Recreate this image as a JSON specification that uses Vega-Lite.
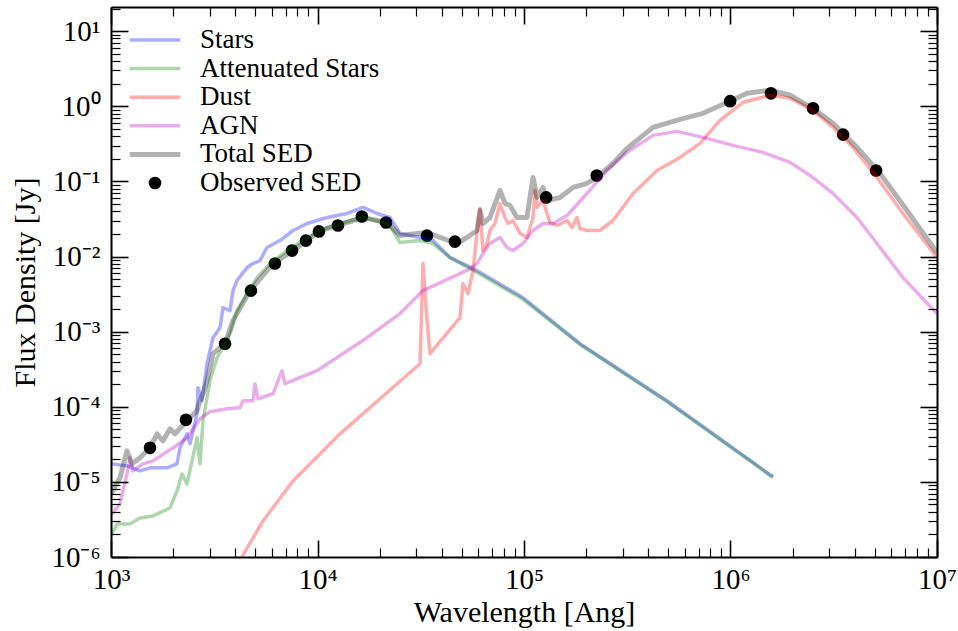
{
  "$schema": "https://vega.github.io/schema/vega-lite/v6.json",
  "width": 826,
  "height": 550,
  "autosize": {"type": "none"},
  "padding": {"left": 111, "top": 7, "right": 21, "bottom": 74},
  "background": "white",
  "config": {
    "font": "Liberation Serif",
    "view": {"stroke": null},
    "axis": {"grid": false, "labelColor": "black", "titleColor": "black", "tickColor": "black", "domainColor": "black", "titleFontWeight": "normal"}
  },
  "datasets": {
    "observed": [
      {"series": "Observed SED", "wavelength": 1545, "flux": 2.84e-5},
      {"series": "Observed SED", "wavelength": 2306, "flux": 6.7e-5},
      {"series": "Observed SED", "wavelength": 3565, "flux": 6.9e-4},
      {"series": "Observed SED", "wavelength": 4764, "flux": 3.52e-3},
      {"series": "Observed SED", "wavelength": 6220, "flux": 8.07e-3},
      {"series": "Observed SED", "wavelength": 7530, "flux": 0.012},
      {"series": "Observed SED", "wavelength": 8790, "flux": 0.0163},
      {"series": "Observed SED", "wavelength": 10160, "flux": 0.0216},
      {"series": "Observed SED", "wavelength": 12560, "flux": 0.0259},
      {"series": "Observed SED", "wavelength": 16400, "flux": 0.0341},
      {"series": "Observed SED", "wavelength": 21470, "flux": 0.0284},
      {"series": "Observed SED", "wavelength": 33900, "flux": 0.019},
      {"series": "Observed SED", "wavelength": 46300, "flux": 0.0158},
      {"series": "Observed SED", "wavelength": 128000, "flux": 0.0612},
      {"series": "Observed SED", "wavelength": 225000, "flux": 0.12},
      {"series": "Observed SED", "wavelength": 996000, "flux": 1.17},
      {"series": "Observed SED", "wavelength": 1570000, "flux": 1.49},
      {"series": "Observed SED", "wavelength": 2510000, "flux": 0.94},
      {"series": "Observed SED", "wavelength": 3510000, "flux": 0.42},
      {"series": "Observed SED", "wavelength": 5070000, "flux": 0.14}
    ],
    "models": [
      {"series": "Stars", "wavelength": 1000, "flux": 1.738e-5},
      {"series": "Stars", "wavelength": 1195, "flux": 1.634e-5},
      {"series": "Stars", "wavelength": 1382, "flux": 1.402e-5},
      {"series": "Stars", "wavelength": 1545, "flux": 1.537e-5},
      {"series": "Stars", "wavelength": 1867, "flux": 1.537e-5},
      {"series": "Stars", "wavelength": 2087, "flux": 1.738e-5},
      {"series": "Stars", "wavelength": 2158, "flux": 2.84e-5},
      {"series": "Stars", "wavelength": 2334, "flux": 4.365e-5},
      {"series": "Stars", "wavelength": 2413, "flux": 3.211e-5},
      {"series": "Stars", "wavelength": 2609, "flux": 8.066e-5},
      {"series": "Stars", "wavelength": 2638, "flux": 1.792e-4},
      {"series": "Stars", "wavelength": 2758, "flux": 1.202e-4},
      {"series": "Stars", "wavelength": 2917, "flux": 3.744e-4},
      {"series": "Stars", "wavelength": 3118, "flux": 8.318e-4},
      {"series": "Stars", "wavelength": 3372, "flux": 1.13e-3},
      {"series": "Stars", "wavelength": 3486, "flux": 2.089e-3},
      {"series": "Stars", "wavelength": 3771, "flux": 1.905e-3},
      {"series": "Stars", "wavelength": 3898, "flux": 3.522e-3},
      {"series": "Stars", "wavelength": 4076, "flux": 4.786e-3},
      {"series": "Stars", "wavelength": 4557, "flux": 7.134e-3},
      {"series": "Stars", "wavelength": 4871, "flux": 8.066e-3},
      {"series": "Stars", "wavelength": 5266, "flux": 8.843e-3},
      {"series": "Stars", "wavelength": 5694, "flux": 1.318e-2},
      {"series": "Stars", "wavelength": 6583, "flux": 1.634e-2},
      {"series": "Stars", "wavelength": 7609, "flux": 2.222e-2},
      {"series": "Stars", "wavelength": 8896, "flux": 2.754e-2},
      {"series": "Stars", "wavelength": 11117, "flux": 3.311e-2},
      {"series": "Stars", "wavelength": 13898, "flux": 3.744e-2},
      {"series": "Stars", "wavelength": 16610, "flux": 4.5e-2},
      {"series": "Stars", "wavelength": 19418, "flux": 3.744e-2},
      {"series": "Stars", "wavelength": 22450, "flux": 3.311e-2},
      {"series": "Stars", "wavelength": 25090, "flux": 2.026e-2},
      {"series": "Stars", "wavelength": 31360, "flux": 1.792e-2},
      {"series": "Stars", "wavelength": 36250, "flux": 1.634e-2},
      {"series": "Stars", "wavelength": 43820, "flux": 9.697e-3},
      {"series": "Stars", "wavelength": 52970, "flux": 7.586e-3},
      {"series": "Stars", "wavelength": 59210, "flux": 6.506e-3},
      {"series": "Stars", "wavelength": 98900, "flux": 2.84e-3},
      {"series": "Stars", "wavelength": 186700, "flux": 6.918e-4},
      {"series": "Stars", "wavelength": 492600, "flux": 1.202e-4},
      {"series": "Stars", "wavelength": 1606000, "flux": 1.166e-5},

      {"series": "Attenuated Stars", "wavelength": 1000, "flux": 1.905e-6},
      {"series": "Attenuated Stars", "wavelength": 1069, "flux": 2.754e-6},
      {"series": "Attenuated Stars", "wavelength": 1236, "flux": 2.754e-6},
      {"series": "Attenuated Stars", "wavelength": 1382, "flux": 3.311e-6},
      {"series": "Attenuated Stars", "wavelength": 1598, "flux": 3.522e-6},
      {"series": "Attenuated Stars", "wavelength": 1931, "flux": 4.5e-6},
      {"series": "Attenuated Stars", "wavelength": 2087, "flux": 7.586e-6},
      {"series": "Attenuated Stars", "wavelength": 2207, "flux": 1.278e-5},
      {"series": "Attenuated Stars", "wavelength": 2334, "flux": 9.404e-6},
      {"series": "Attenuated Stars", "wavelength": 2468, "flux": 1.905e-5},
      {"series": "Attenuated Stars", "wavelength": 2609, "flux": 3.861e-5},
      {"series": "Attenuated Stars", "wavelength": 2698, "flux": 1.738e-5},
      {"series": "Attenuated Stars", "wavelength": 2789, "flux": 6.506e-5},
      {"series": "Attenuated Stars", "wavelength": 2917, "flux": 1.318e-4},
      {"series": "Attenuated Stars", "wavelength": 3015, "flux": 2.222e-4},
      {"series": "Attenuated Stars", "wavelength": 3261, "flux": 4.5e-4},
      {"series": "Attenuated Stars", "wavelength": 3486, "flux": 6.117e-4},
      {"series": "Attenuated Stars", "wavelength": 3771, "flux": 9.404e-4},
      {"series": "Attenuated Stars", "wavelength": 4076, "flux": 1.905e-3},
      {"series": "Attenuated Stars", "wavelength": 4557, "flux": 3.211e-3},
      {"series": "Attenuated Stars", "wavelength": 5093, "flux": 5.248e-3},
      {"series": "Attenuated Stars", "wavelength": 5888, "flux": 8.066e-3},
      {"series": "Attenuated Stars", "wavelength": 7118, "flux": 1.202e-2},
      {"series": "Attenuated Stars", "wavelength": 8507, "flux": 1.634e-2},
      {"series": "Attenuated Stars", "wavelength": 10282, "flux": 2.222e-2},
      {"series": "Attenuated Stars", "wavelength": 12853, "flux": 2.754e-2},
      {"series": "Attenuated Stars", "wavelength": 16610, "flux": 3.311e-2},
      {"series": "Attenuated Stars", "wavelength": 21710, "flux": 2.754e-2},
      {"series": "Attenuated Stars", "wavelength": 23210, "flux": 2.222e-2},
      {"series": "Attenuated Stars", "wavelength": 25090, "flux": 1.537e-2},
      {"series": "Attenuated Stars", "wavelength": 31360, "flux": 1.634e-2},
      {"series": "Attenuated Stars", "wavelength": 36250, "flux": 1.49e-2},
      {"series": "Attenuated Stars", "wavelength": 43820, "flux": 9.697e-3},
      {"series": "Attenuated Stars", "wavelength": 59210, "flux": 6.119e-3},
      {"series": "Attenuated Stars", "wavelength": 98900, "flux": 2.7e-3},
      {"series": "Attenuated Stars", "wavelength": 186700, "flux": 6.75e-4},
      {"series": "Attenuated Stars", "wavelength": 492600, "flux": 1.17e-4},
      {"series": "Attenuated Stars", "wavelength": 1606000, "flux": 1.15e-5},

      {"series": "Dust", "wavelength": 4100, "flux": 8e-7},
      {"series": "Dust", "wavelength": 5445, "flux": 3.02e-6},
      {"series": "Dust", "wavelength": 7609, "flux": 1.031e-5},
      {"series": "Dust", "wavelength": 12853, "flux": 4.365e-5},
      {"series": "Dust", "wavelength": 20080, "flux": 1.278e-4},
      {"series": "Dust", "wavelength": 31360, "flux": 3.744e-4},
      {"series": "Dust", "wavelength": 32430, "flux": 8.066e-3},
      {"series": "Dust", "wavelength": 33910, "flux": 1.402e-3},
      {"series": "Dust", "wavelength": 35060, "flux": 5.088e-4},
      {"series": "Dust", "wavelength": 48980, "flux": 1.537e-3},
      {"series": "Dust", "wavelength": 50650, "flux": 4.365e-3},
      {"series": "Dust", "wavelength": 53560, "flux": 3.211e-3},
      {"series": "Dust", "wavelength": 56620, "flux": 6.506e-3},
      {"series": "Dust", "wavelength": 59870, "flux": 2.754e-2},
      {"series": "Dust", "wavelength": 61220, "flux": 4.365e-2},
      {"series": "Dust", "wavelength": 63300, "flux": 1.202e-2},
      {"series": "Dust", "wavelength": 66210, "flux": 1.49e-2},
      {"series": "Dust", "wavelength": 68450, "flux": 2.222e-2},
      {"series": "Dust", "wavelength": 72380, "flux": 2.754e-2},
      {"series": "Dust", "wavelength": 76540, "flux": 5.088e-2},
      {"series": "Dust", "wavelength": 80910, "flux": 3.311e-2},
      {"series": "Dust", "wavelength": 83660, "flux": 2.754e-2},
      {"series": "Dust", "wavelength": 88460, "flux": 3.02e-2},
      {"series": "Dust", "wavelength": 95630, "flux": 2.026e-2},
      {"series": "Dust", "wavelength": 103400, "flux": 1.792e-2},
      {"series": "Dust", "wavelength": 110600, "flux": 3.311e-2},
      {"series": "Dust", "wavelength": 113100, "flux": 7.586e-2},
      {"series": "Dust", "wavelength": 115600, "flux": 4.5e-2},
      {"series": "Dust", "wavelength": 123600, "flux": 5.579e-2},
      {"series": "Dust", "wavelength": 129300, "flux": 3.744e-2},
      {"series": "Dust", "wavelength": 133600, "flux": 2.84e-2},
      {"series": "Dust", "wavelength": 144500, "flux": 2.59e-2},
      {"series": "Dust", "wavelength": 161500, "flux": 3.02e-2},
      {"series": "Dust", "wavelength": 170800, "flux": 2.436e-2},
      {"series": "Dust", "wavelength": 180600, "flux": 3.311e-2},
      {"series": "Dust", "wavelength": 186700, "flux": 2.362e-2},
      {"series": "Dust", "wavelength": 201900, "flux": 2.222e-2},
      {"series": "Dust", "wavelength": 233300, "flux": 2.222e-2},
      {"series": "Dust", "wavelength": 269800, "flux": 3.02e-2},
      {"series": "Dust", "wavelength": 337200, "flux": 6.918e-2},
      {"series": "Dust", "wavelength": 440700, "flux": 0.1402},
      {"series": "Dust", "wavelength": 569400, "flux": 0.2089},
      {"series": "Dust", "wavelength": 711800, "flux": 0.3211},
      {"series": "Dust", "wavelength": 889500, "flux": 0.6506},
      {"series": "Dust", "wavelength": 1150000, "flux": 1.131},
      {"series": "Dust", "wavelength": 1554000, "flux": 1.402},
      {"series": "Dust", "wavelength": 1942000, "flux": 1.278},
      {"series": "Dust", "wavelength": 2509000, "flux": 0.8843},
      {"series": "Dust", "wavelength": 3136000, "flux": 0.5248},
      {"series": "Dust", "wavelength": 3919000, "flux": 0.284},
      {"series": "Dust", "wavelength": 5123000, "flux": 0.113},
      {"series": "Dust", "wavelength": 6843000, "flux": 0.03744},
      {"series": "Dust", "wavelength": 10000000, "flux": 0.009697},

      {"series": "AGN", "wavelength": 1000, "flux": 3.6e-6},
      {"series": "AGN", "wavelength": 1105, "flux": 5.088e-6},
      {"series": "AGN", "wavelength": 1195, "flux": 1.278e-5},
      {"series": "AGN", "wavelength": 1236, "flux": 2.089e-5},
      {"series": "AGN", "wavelength": 1278, "flux": 1.402e-5},
      {"series": "AGN", "wavelength": 1429, "flux": 1.738e-5},
      {"series": "AGN", "wavelength": 1598, "flux": 1.905e-5},
      {"series": "AGN", "wavelength": 1997, "flux": 2.84e-5},
      {"series": "AGN", "wavelength": 2334, "flux": 3.861e-5},
      {"series": "AGN", "wavelength": 2698, "flux": 6.918e-5},
      {"series": "AGN", "wavelength": 3015, "flux": 8.6e-5},
      {"series": "AGN", "wavelength": 3646, "flux": 9.404e-5},
      {"series": "AGN", "wavelength": 4214, "flux": 9.697e-5},
      {"series": "AGN", "wavelength": 4357, "flux": 1.202e-4},
      {"series": "AGN", "wavelength": 4871, "flux": 1.202e-4},
      {"series": "AGN", "wavelength": 4981, "flux": 2.026e-4},
      {"series": "AGN", "wavelength": 5150, "flux": 1.278e-4},
      {"series": "AGN", "wavelength": 6087, "flux": 1.49e-4},
      {"series": "AGN", "wavelength": 6732, "flux": 3.02e-4},
      {"series": "AGN", "wavelength": 6961, "flux": 2.026e-4},
      {"series": "AGN", "wavelength": 9945, "flux": 3.02e-4},
      {"series": "AGN", "wavelength": 17368, "flux": 8.318e-4},
      {"series": "AGN", "wavelength": 25090, "flux": 1.738e-3},
      {"series": "AGN", "wavelength": 32430, "flux": 3.522e-3},
      {"series": "AGN", "wavelength": 48980, "flux": 5.934e-3},
      {"series": "AGN", "wavelength": 54770, "flux": 6.918e-3},
      {"series": "AGN", "wavelength": 59210, "flux": 8.066e-3},
      {"series": "AGN", "wavelength": 63300, "flux": 1.096e-2},
      {"series": "AGN", "wavelength": 68450, "flux": 1.49e-2},
      {"series": "AGN", "wavelength": 76540, "flux": 1.792e-2},
      {"series": "AGN", "wavelength": 82740, "flux": 1.318e-2},
      {"series": "AGN", "wavelength": 88460, "flux": 1.202e-2},
      {"series": "AGN", "wavelength": 98900, "flux": 1.49e-2},
      {"series": "AGN", "wavelength": 110600, "flux": 2.222e-2},
      {"series": "AGN", "wavelength": 123600, "flux": 2.754e-2},
      {"series": "AGN", "wavelength": 138200, "flux": 2.754e-2},
      {"series": "AGN", "wavelength": 161500, "flux": 3.522e-2},
      {"series": "AGN", "wavelength": 201900, "flux": 6.918e-2},
      {"series": "AGN", "wavelength": 252300, "flux": 0.1402},
      {"series": "AGN", "wavelength": 315400, "flux": 0.2436},
      {"series": "AGN", "wavelength": 421400, "flux": 0.4105},
      {"series": "AGN", "wavelength": 550700, "flux": 0.4642},
      {"series": "AGN", "wavelength": 736000, "flux": 0.3861},
      {"series": "AGN", "wavelength": 1028000, "flux": 0.302},
      {"series": "AGN", "wavelength": 1437000, "flux": 0.2436},
      {"series": "AGN", "wavelength": 1942000, "flux": 0.1792},
      {"series": "AGN", "wavelength": 2427000, "flux": 0.1202},
      {"series": "AGN", "wavelength": 3136000, "flux": 0.06918},
      {"series": "AGN", "wavelength": 4098000, "flux": 0.03311},
      {"series": "AGN", "wavelength": 5297000, "flux": 0.01318},
      {"series": "AGN", "wavelength": 6843000, "flux": 0.005248},
      {"series": "AGN", "wavelength": 10000000, "flux": 0.001738},

      {"series": "Total SED", "wavelength": 1000, "flux": 6.918e-6},
      {"series": "Total SED", "wavelength": 1105, "flux": 1.13e-5},
      {"series": "Total SED", "wavelength": 1195, "flux": 2.59e-5},
      {"series": "Total SED", "wavelength": 1264, "flux": 1.738e-5},
      {"series": "Total SED", "wavelength": 1382, "flux": 2.089e-5},
      {"series": "Total SED", "wavelength": 1545, "flux": 2.84e-5},
      {"series": "Total SED", "wavelength": 1670, "flux": 4.365e-5},
      {"series": "Total SED", "wavelength": 1785, "flux": 3.522e-5},
      {"series": "Total SED", "wavelength": 1931, "flux": 5.088e-5},
      {"series": "Total SED", "wavelength": 2041, "flux": 4.365e-5},
      {"series": "Total SED", "wavelength": 2334, "flux": 6.506e-5},
      {"series": "Total SED", "wavelength": 2609, "flux": 8.843e-5},
      {"series": "Total SED", "wavelength": 2698, "flux": 1.202e-4},
      {"series": "Total SED", "wavelength": 2789, "flux": 1.49e-4},
      {"series": "Total SED", "wavelength": 2917, "flux": 2.222e-4},
      {"series": "Total SED", "wavelength": 3118, "flux": 5.088e-4},
      {"series": "Total SED", "wavelength": 3566, "flux": 6.918e-4},
      {"series": "Total SED", "wavelength": 3898, "flux": 1.402e-3},
      {"series": "Total SED", "wavelength": 4711, "flux": 3.522e-3},
      {"series": "Total SED", "wavelength": 6087, "flux": 8.066e-3},
      {"series": "Total SED", "wavelength": 7609, "flux": 1.202e-2},
      {"series": "Total SED", "wavelength": 8896, "flux": 1.634e-2},
      {"series": "Total SED", "wavelength": 10282, "flux": 2.222e-2},
      {"series": "Total SED", "wavelength": 12431, "flux": 2.59e-2},
      {"series": "Total SED", "wavelength": 16610, "flux": 3.311e-2},
      {"series": "Total SED", "wavelength": 21710, "flux": 2.84e-2},
      {"series": "Total SED", "wavelength": 25090, "flux": 1.905e-2},
      {"series": "Total SED", "wavelength": 33910, "flux": 2.089e-2},
      {"series": "Total SED", "wavelength": 47370, "flux": 1.49e-2},
      {"series": "Total SED", "wavelength": 52970, "flux": 1.792e-2},
      {"series": "Total SED", "wavelength": 59210, "flux": 2.222e-2},
      {"series": "Total SED", "wavelength": 61220, "flux": 4.105e-2},
      {"series": "Total SED", "wavelength": 63300, "flux": 2.754e-2},
      {"series": "Total SED", "wavelength": 68450, "flux": 3.311e-2},
      {"series": "Total SED", "wavelength": 76540, "flux": 7.586e-2},
      {"series": "Total SED", "wavelength": 80910, "flux": 5.088e-2},
      {"series": "Total SED", "wavelength": 85550, "flux": 4.786e-2},
      {"series": "Total SED", "wavelength": 92500, "flux": 3.311e-2},
      {"series": "Total SED", "wavelength": 103400, "flux": 3.311e-2},
      {"series": "Total SED", "wavelength": 110600, "flux": 0.113},
      {"series": "Total SED", "wavelength": 115600, "flux": 6.117e-2},
      {"series": "Total SED", "wavelength": 123600, "flux": 8.318e-2},
      {"series": "Total SED", "wavelength": 129300, "flux": 5.579e-2},
      {"series": "Total SED", "wavelength": 149400, "flux": 6.117e-2},
      {"series": "Total SED", "wavelength": 172700, "flux": 8.318e-2},
      {"series": "Total SED", "wavelength": 201900, "flux": 9.404e-2},
      {"series": "Total SED", "wavelength": 225700, "flux": 0.113},
      {"series": "Total SED", "wavelength": 269800, "flux": 0.1738},
      {"series": "Total SED", "wavelength": 315400, "flux": 0.2754},
      {"series": "Total SED", "wavelength": 421400, "flux": 0.5248},
      {"series": "Total SED", "wavelength": 569400, "flux": 0.671},
      {"series": "Total SED", "wavelength": 736000, "flux": 0.8066},
      {"series": "Total SED", "wavelength": 994500, "flux": 1.166},
      {"series": "Total SED", "wavelength": 1202000, "flux": 1.49},
      {"series": "Total SED", "wavelength": 1554000, "flux": 1.634},
      {"series": "Total SED", "wavelength": 1942000, "flux": 1.402},
      {"series": "Total SED", "wavelength": 2509000, "flux": 0.9404},
      {"series": "Total SED", "wavelength": 3136000, "flux": 0.5934},
      {"series": "Total SED", "wavelength": 4098000, "flux": 0.284},
      {"series": "Total SED", "wavelength": 5297000, "flux": 0.1279},
      {"series": "Total SED", "wavelength": 7155000, "flux": 0.04105},
      {"series": "Total SED", "wavelength": 10000000, "flux": 0.01131}
    ]
  },
  "resolve": {
    "scale": {"x": "shared", "y": "shared", "stroke": "shared"},
    "axis": {"x": "independent", "y": "independent"}
  },
  "layer": [
    {
      "data": {"name": "observed"},
      "mark": {"type": "point", "filled": true, "size": 160, "opacity": 1},
      "encoding": {
        "x": {
          "field": "wavelength", "type": "quantitative",
          "scale": {"type": "log", "domain": [1000, 10000000], "nice": false, "zero": false},
          "axis": {
            "orient": "bottom", "values": [1000, 10000, 100000, 1000000, 10000000],
            "tickSize": -17, "tickWidth": 1.6, "domain": true, "domainWidth": 2,
            "labelExpr": "'10' + (datum.value < 1 ? '⁻' : '') + ['⁰','¹','²','³','⁴','⁵','⁶','⁷'][abs(round(log(datum.value) / LN10))]",
            "labelFont": "Liberation Serif", "labelFontSize": 29, "labelPadding": 25,
            "labelFlush": false, "labelOverlap": false, "labelBound": false,
            "title": "Wavelength [Ang]", "titleFont": "Liberation Serif", "titleFontSize": 30, "titlePadding": 3,
            "zindex": 2
          }
        },
        "y": {
          "field": "flux", "type": "quantitative",
          "scale": {"type": "log", "domain": [1e-6, 21], "nice": false, "zero": false},
          "axis": {
            "orient": "left", "values": [1e-6, 1e-5, 1e-4, 1e-3, 1e-2, 1e-1, 1, 10],
            "tickSize": -17, "tickWidth": 1.6, "domain": true, "domainWidth": 2,
            "labelExpr": "'10' + (datum.value < 1 ? '⁻' : '') + ['⁰','¹','²','³','⁴','⁵','⁶','⁷'][abs(round(log(datum.value) / LN10))]",
            "labelFont": "Liberation Serif", "labelFontSize": 29, "labelPadding": 28,
            "labelFlush": false, "labelOverlap": false, "labelBound": false,
            "title": "Flux Density [Jy]", "titleFont": "Liberation Serif", "titleFontSize": 30, "titlePadding": 10,
            "zindex": 2
          }
        },
        "color": {
          "field": "series", "type": "nominal",
          "scale": {
            "domain": ["Stars", "Attenuated Stars", "Dust", "AGN", "Total SED", "Observed SED"],
            "range": ["#0000ff", "#008000", "#ff0000", "#bf00bf", "#000000", "#000000"]
          },
          "legend": {
            "orient": "none", "legendX": 30.5, "legendY": 19.5, "title": null, "padding": 0,
            "symbolSize": 160, "symbolOffset": 0,
            "labelFont": "Liberation Serif", "labelFontSize": 27, "labelColor": "black", "labelOffset": 31.5, "labelLimit": 400,
            "rowPadding": 0.6
          }
        },
        "stroke": {
          "field": "series", "type": "nominal",
          "scale": {
            "domain": ["Stars", "Attenuated Stars", "Dust", "AGN", "Total SED", "Observed SED"],
            "range": ["rgba(0,0,255,0.32)", "rgba(0,128,0,0.32)", "rgba(255,0,0,0.32)", "rgba(191,0,191,0.32)", "rgba(0,0,0,0.3)", "transparent"]
          }
        },
        "shape": {
          "field": "series", "type": "nominal",
          "scale": {
            "domain": ["Stars", "Attenuated Stars", "Dust", "AGN", "Total SED", "Observed SED"],
            "range": ["M-4,0H4", "M-4,0H4", "M-4,0H4", "M-4,0H4", "M-4,0H4", "circle"]
          }
        },
        "strokeWidth": {
          "field": "series", "type": "nominal",
          "scale": {
            "type": "ordinal",
            "domain": ["Stars", "Attenuated Stars", "Dust", "AGN", "Total SED", "Observed SED"],
            "range": [3.5, 3.5, 3.5, 3.5, 5, 0]
          }
        }
      }
    },
    {
      "data": {"name": "models"},
      "transform": [{"filter": {"field": "series", "oneOf": ["Stars", "Attenuated Stars"]}}],
      "mark": {"type": "line", "strokeWidth": 3.5, "strokeJoin": "round", "clip": true},
      "encoding": {
        "x": {
          "field": "wavelength", "type": "quantitative",
          "axis": {
            "orient": "bottom",
            "values": [2000, 3000, 4000, 5000, 6000, 7000, 8000, 9000, 20000, 30000, 40000, 50000, 60000, 70000, 80000, 90000, 200000, 300000, 400000, 500000, 600000, 700000, 800000, 900000, 2000000, 3000000, 4000000, 5000000, 6000000, 7000000, 8000000, 9000000],
            "tickSize": -9, "tickWidth": 1.2, "labels": false, "domain": false, "title": null, "zindex": 2
          }
        },
        "y": {
          "field": "flux", "type": "quantitative",
          "axis": {
            "orient": "left",
            "values": [2e-6, 3e-6, 4e-6, 5e-6, 6e-6, 7e-6, 8e-6, 9e-6, 2e-5, 3e-5, 4e-5, 5e-5, 6e-5, 7e-5, 8e-5, 9e-5, 2e-4, 3e-4, 4e-4, 5e-4, 6e-4, 7e-4, 8e-4, 9e-4, 0.002, 0.003, 0.004, 0.005, 0.006, 0.007, 0.008, 0.009, 0.02, 0.03, 0.04, 0.05, 0.06, 0.07, 0.08, 0.09, 0.2, 0.3, 0.4, 0.5, 0.6, 0.7, 0.8, 0.9, 2, 3, 4, 5, 6, 7, 8, 9, 20],
            "tickSize": -9, "tickWidth": 1.2, "labels": false, "domain": false, "title": null, "zindex": 2
          }
        },
        "stroke": {
          "field": "series", "type": "nominal",
          "scale": {
            "domain": ["Stars", "Attenuated Stars", "Dust", "AGN", "Total SED", "Observed SED"],
            "range": ["rgba(0,0,255,0.32)", "rgba(0,128,0,0.32)", "rgba(255,0,0,0.32)", "rgba(191,0,191,0.32)", "rgba(0,0,0,0.3)", "transparent"]
          }
        }
      }
    },
    {
      "data": {"name": "models"},
      "transform": [{"filter": {"field": "series", "oneOf": ["Dust", "AGN"]}}],
      "mark": {"type": "line", "strokeWidth": 3.5, "strokeJoin": "round", "clip": true},
      "encoding": {
        "x": {
          "field": "wavelength", "type": "quantitative",
          "axis": {
            "orient": "top", "values": [1000, 10000, 100000, 1000000, 10000000],
            "tickSize": -17, "tickWidth": 1.6, "labels": false, "domain": true, "domainWidth": 2, "title": null, "zindex": 2
          }
        },
        "y": {
          "field": "flux", "type": "quantitative",
          "axis": {
            "orient": "right", "values": [1e-6, 1e-5, 1e-4, 1e-3, 1e-2, 1e-1, 1, 10],
            "tickSize": -17, "tickWidth": 1.6, "labels": false, "domain": true, "domainWidth": 2, "title": null, "zindex": 2
          }
        },
        "stroke": {
          "field": "series", "type": "nominal",
          "scale": {
            "domain": ["Stars", "Attenuated Stars", "Dust", "AGN", "Total SED", "Observed SED"],
            "range": ["rgba(0,0,255,0.32)", "rgba(0,128,0,0.32)", "rgba(255,0,0,0.32)", "rgba(191,0,191,0.32)", "rgba(0,0,0,0.3)", "transparent"]
          }
        }
      }
    },
    {
      "data": {"name": "models"},
      "transform": [{"filter": {"field": "series", "equal": "Total SED"}}],
      "mark": {"type": "line", "strokeWidth": 5, "strokeJoin": "round", "clip": true},
      "encoding": {
        "x": {
          "field": "wavelength", "type": "quantitative",
          "axis": {
            "orient": "top",
            "values": [2000, 3000, 4000, 5000, 6000, 7000, 8000, 9000, 20000, 30000, 40000, 50000, 60000, 70000, 80000, 90000, 200000, 300000, 400000, 500000, 600000, 700000, 800000, 900000, 2000000, 3000000, 4000000, 5000000, 6000000, 7000000, 8000000, 9000000],
            "tickSize": -9, "tickWidth": 1.2, "labels": false, "domain": false, "title": null, "zindex": 2
          }
        },
        "y": {
          "field": "flux", "type": "quantitative",
          "axis": {
            "orient": "right",
            "values": [2e-6, 3e-6, 4e-6, 5e-6, 6e-6, 7e-6, 8e-6, 9e-6, 2e-5, 3e-5, 4e-5, 5e-5, 6e-5, 7e-5, 8e-5, 9e-5, 2e-4, 3e-4, 4e-4, 5e-4, 6e-4, 7e-4, 8e-4, 9e-4, 0.002, 0.003, 0.004, 0.005, 0.006, 0.007, 0.008, 0.009, 0.02, 0.03, 0.04, 0.05, 0.06, 0.07, 0.08, 0.09, 0.2, 0.3, 0.4, 0.5, 0.6, 0.7, 0.8, 0.9, 2, 3, 4, 5, 6, 7, 8, 9, 20],
            "tickSize": -9, "tickWidth": 1.2, "labels": false, "domain": false, "title": null, "zindex": 2
          }
        },
        "stroke": {
          "field": "series", "type": "nominal",
          "scale": {
            "domain": ["Stars", "Attenuated Stars", "Dust", "AGN", "Total SED", "Observed SED"],
            "range": ["rgba(0,0,255,0.32)", "rgba(0,128,0,0.32)", "rgba(255,0,0,0.32)", "rgba(191,0,191,0.32)", "rgba(0,0,0,0.3)", "transparent"]
          }
        }
      }
    }
  ]
}
